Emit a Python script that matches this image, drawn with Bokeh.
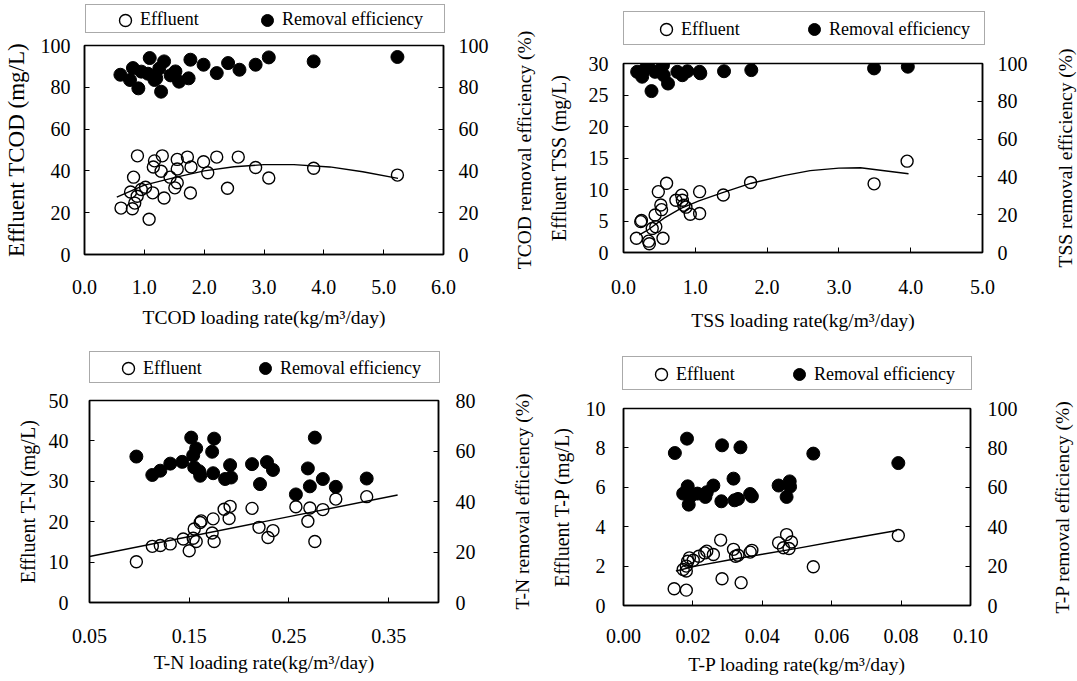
from bokeh.plotting import figure
from bokeh.models import (Range1d, LinearAxis, FixedTicker, NumeralTickFormatter,
                          Legend, LegendItem)
from bokeh.layouts import row, column
from bokeh.embed import file_html
from bokeh.resources import INLINE

FONT = "Liberation Serif"

# ---------------- Panel 1: TCOD ----------------
tcod_eff_x = [0.885, 1.17, 1.30, 1.55, 1.72, 1.99, 2.21, 2.57, 1.15, 1.28, 1.55, 1.78, 2.06,
              2.86, 0.82, 1.43, 1.55, 1.51, 1.02, 0.95, 0.77, 0.88, 1.14, 1.33, 1.77, 2.39,
              0.61, 0.80, 0.84, 1.08, 3.08, 3.83, 5.23]
tcod_eff_y = [47.2, 44.8, 47.2, 45.5, 46.6, 44.4, 46.6, 46.6, 41.9, 39.8, 40.9, 41.9, 39.1,
              41.6, 37.0, 37.0, 34.3, 31.9, 32.2, 31.1, 29.9, 27.9, 29.5, 27.0, 29.4, 31.7,
              22.2, 21.9, 24.6, 16.9, 36.6, 41.3, 38.0]
tcod_rem_x = [0.60, 0.81, 0.90, 0.76, 1.09, 1.06, 1.20, 1.33, 1.28, 1.52, 1.58, 1.77, 1.74,
              1.99, 2.21, 2.40, 2.59, 2.86, 3.08, 3.83, 5.23, 0.95, 1.25, 1.44, 1.17]
tcod_rem_y = [86.0, 89.2, 79.5, 83.5, 94.0, 86.5, 84.3, 92.4, 77.9, 87.6, 82.7, 93.2, 84.3,
              90.8, 86.8, 91.6, 88.4, 90.8, 94.3, 92.4, 94.5, 87.5, 89.0, 85.7, 83.5]
tcod_fit_x = [0.54, 1.0, 1.5, 2.0, 2.5, 3.0, 3.5, 4.1, 4.65, 5.24]
tcod_fit_y = [27.5, 33.2, 36.8, 40.0, 42.0, 43.0, 43.0, 41.9, 39.6, 36.4]

# ---------------- Panel 2: TSS ----------------
tss_eff_x = [0.18, 0.25, 0.24, 0.35, 0.36, 0.55, 0.40, 0.45, 0.44, 0.52, 0.53, 0.485, 0.60,
             0.73, 0.81, 0.82, 0.84, 0.87, 0.93, 1.06, 1.06, 1.39, 1.77, 3.49, 3.95]
tss_eff_y = [2.27, 5.07, 4.9, 1.8, 1.4, 2.27, 3.8, 4.1, 5.96, 7.55, 6.8, 9.66, 11.0,
             8.3, 9.1, 8.3, 7.5, 7.2, 6.06, 9.66, 6.2, 9.13, 11.1, 10.9, 14.5]
tss_rem_x = [0.19, 0.26, 0.30, 0.35, 0.39, 0.44, 0.55, 0.56, 0.62, 0.75, 0.82, 0.89, 1.06,
             1.07, 1.40, 1.78, 3.49, 3.96]
tss_rem_y = [95.6, 93.0, 97.0, 98.3, 85.4, 95.6, 99.1, 93.8, 89.4, 95.6, 93.8, 95.9, 95.6,
             94.8, 95.9, 96.5, 97.4, 98.3]
tss_fit_x = [0.22, 0.33, 0.57, 0.80, 1.05, 1.38, 1.78, 2.23, 2.60, 3.00, 3.30, 3.69, 3.97]
tss_fit_y = [2.8, 3.5, 5.5, 7.0, 8.2, 9.5, 11.0, 12.2, 13.0, 13.4, 13.45, 12.9, 12.5]

# ---------------- Panel 3: T-N ----------------
tn_eff_x = [0.097, 0.113, 0.121, 0.131, 0.144, 0.150, 0.154, 0.155, 0.157, 0.161, 0.162,
            0.173, 0.175, 0.174, 0.185, 0.191, 0.190, 0.213, 0.220, 0.229, 0.234, 0.257,
            0.271, 0.269, 0.284, 0.276, 0.297, 0.328]
tn_eff_y = [10.1, 13.9, 14.1, 14.5, 15.7, 12.8, 15.9, 18.2, 15.1, 19.8, 20.2,
            17.2, 15.1, 20.7, 23.1, 23.8, 20.8, 23.3, 18.6, 16.1, 17.8, 23.7,
            23.4, 20.1, 23.0, 15.1, 25.6, 26.2]
tn_rem_x = [0.097, 0.113, 0.121, 0.131, 0.143, 0.152, 0.157, 0.154, 0.155, 0.161, 0.175,
            0.173, 0.174, 0.186, 0.192, 0.191, 0.213, 0.221, 0.228, 0.234, 0.276, 0.269,
            0.271, 0.257, 0.284, 0.297, 0.328, 0.160]
tn_rem_y = [57.8, 50.5, 52.2, 55.0, 55.7, 65.3, 61.0, 58.3, 53.5, 50.2, 64.9,
            59.7, 51.2, 48.9, 49.5, 54.4, 54.8, 46.9, 55.6, 52.5, 65.3, 53.1,
            46.0, 42.8, 48.9, 45.8, 49.1, 52.0]
tn_fit_x = [0.05, 0.359]
tn_fit_y = [11.4, 26.6]

# ---------------- Panel 4: T-P ----------------
tp_eff_x = [0.0146, 0.0181, 0.0284, 0.0339, 0.028, 0.0172, 0.0181, 0.0185, 0.019, 0.0181,
            0.0201, 0.0217, 0.0234, 0.024, 0.0259, 0.0317, 0.0323, 0.033, 0.0365, 0.037,
            0.0447, 0.047, 0.0461, 0.0484, 0.0477, 0.0547, 0.0792]
tp_eff_y = [0.85, 0.78, 1.36, 1.16, 3.32, 1.83, 2.0, 2.25, 2.42, 1.75,
            2.3, 2.5, 2.67, 2.76, 2.59, 2.85, 2.5, 2.55, 2.71, 2.8,
            3.18, 3.6, 2.93, 3.22, 2.89, 1.97, 3.55]
tp_rem_x = [0.0148, 0.0183, 0.0284, 0.0337, 0.0317, 0.0172, 0.0185, 0.0188, 0.0193, 0.0186,
            0.0213, 0.0236, 0.024, 0.0259, 0.0282, 0.0320, 0.033, 0.0365, 0.037, 0.0447,
            0.0479, 0.048, 0.047, 0.0547, 0.0792]
tp_rem_y = [77.4, 84.7, 81.3, 80.3, 64.4, 56.8, 60.5, 51.2, 55.4, 58.0,
            56.8, 55.1, 57.5, 60.9, 52.9, 53.4, 54.1, 56.6, 55.4, 60.9,
            63.0, 60.3, 55.1, 77.1, 72.3]
tp_fit_x = [0.0151, 0.0208, 0.030, 0.040, 0.050, 0.064, 0.0788]
tp_fit_y = [1.75, 2.0, 2.3, 2.6, 2.9, 3.35, 3.81]

legend_labels = ["Effluent", "Removal efficiency"]

OPEN = dict(marker="circle", fill_color=None, line_color="black", line_width=1.4)
FILLED = dict(marker="circle", fill_color="black", line_color="black")
LS = -5  # legend label standoff


def base_fig(**kw):
    f = figure(output_backend="svg", toolbar_location=None, frame_align=False, **kw)
    f.background_fill_color = "white"
    f.border_fill_color = "white"
    return f


def style_axis(ax, label, label_size, label_standoff, tick_standoff, ticks, fmt=None):
    ax.axis_label = label
    ax.axis_label_text_font = FONT
    ax.axis_label_text_font_size = label_size
    ax.axis_label_text_font_style = "normal"
    ax.axis_label_text_color = "black"
    ax.axis_label_standoff = label_standoff
    ax.major_label_text_font = FONT
    ax.major_label_text_font_size = "20px"
    ax.major_label_text_color = "black"
    ax.major_label_standoff = tick_standoff
    ax.ticker = FixedTicker(ticks=ticks)
    if fmt:
        ax.formatter = NumeralTickFormatter(format=fmt)
    ax.major_tick_in = 5
    ax.major_tick_out = 0
    ax.minor_tick_in = 0
    ax.minor_tick_out = 0
    ax.axis_line_color = "black"
    ax.axis_line_width = 1.5
    ax.major_tick_line_color = "black"
    ax.major_tick_line_width = 1


def make_legend_fig(c):
    lf = base_fig(width=c["w"], height=c["hl"], x_range=Range1d(0, 1), y_range=Range1d(0, 1),
                  x_axis_type=None, y_axis_type=None, min_border=0)
    lf.outline_line_color = None
    # off-range points so that only the legend swatches are visible
    dummy = lf.scatter(x=[5], y=[5], alpha=0)
    e_r = lf.scatter(x=[5], y=[5], **OPEN)
    r_r = lf.scatter(x=[5], y=[5], **FILLED)
    fl, ft, hl = c["org"][0], c["org"][1], c["hl"]
    box_l, box_r, box_t, box_b = c["box"]
    legA = Legend(items=[LegendItem(label=" ", renderers=[dummy])],
                  location=(box_l - fl, hl - (box_b - ft)),
                  orientation="horizontal", padding=0, spacing=0, margin=0,
                  glyph_width=10, glyph_height=int(round(box_b - box_t)),
                  label_standoff=0, label_width=int(round(box_r - box_l - 10)),
                  border_line_color="#555555", border_line_width=1,
                  background_fill_color="white", background_fill_alpha=1.0,
                  label_text_font=FONT, label_text_font_size="18px")
    lf.add_layout(legA, "center")
    m1, m2, my = c["leg"]
    legB = Legend(items=[LegendItem(label=legend_labels[0], renderers=[e_r]),
                         LegendItem(label=legend_labels[1], renderers=[r_r])],
                  location=(m1 - 15 - fl, hl - (my + 15 - ft)),
                  orientation="horizontal", padding=0, spacing=0, margin=0,
                  glyph_width=30, glyph_height=30, label_standoff=LS,
                  label_width=int(round(m2 - m1 - 30 - LS)),
                  border_line_alpha=0, background_fill_alpha=0,
                  label_text_font=FONT, label_text_font_size="18px",
                  label_text_color="black")
    lf.add_layout(legB, "center")
    return lf


def make_title_fig(c):
    # narrow companion figure carrying the right-hand axis title (reads bottom-to-top)
    th = c["hl"] + c["h"]
    tf = base_fig(width=c["tw"], height=th, x_range=Range1d(0, 1), y_range=Range1d(0, 1),
                  x_axis_type=None, min_border_left=c["tbl"], min_border_right=0,
                  min_border_top=c["hl"] + c["bt"], min_border_bottom=c["bb"])
    tf.outline_line_color = None
    tf.xgrid.visible = False
    tf.ygrid.visible = False
    ax = tf.yaxis[0]
    ax.ticker = FixedTicker(ticks=[])
    ax.axis_line_color = None
    ax.major_tick_line_color = None
    ax.minor_tick_line_color = None
    ax.axis_label = c["rlabel"]
    ax.axis_label_text_font = FONT
    ax.axis_label_text_font_size = "19.5px"
    ax.axis_label_text_font_style = "normal"
    ax.axis_label_text_color = "black"
    ax.axis_label_standoff = 0
    return tf


def make_panel(c):
    p = base_fig(width=c["w"], height=c["h"],
                 x_range=Range1d(*c["xr"]), y_range=Range1d(*c["yl"]),
                 min_border_left=c["bl"], min_border_right=c["br"],
                 min_border_top=c["bt"], min_border_bottom=c["bb"])
    p.extra_y_ranges = {"eff": Range1d(*c["yr"])}
    p.xgrid.visible = False
    p.ygrid.visible = False
    p.outline_line_color = "black"
    p.outline_line_width = 1.5

    style_axis(p.xaxis[0], c["xlabel"], "19.5px", c["x_ls"], c["x_ts"], c["xticks"], c["xfmt"])
    style_axis(p.yaxis[0], c["ylabel"], c["ylabel_size"], c["y_ls"], c["y_ts"], c["yticks"])
    rax = LinearAxis(y_range_name="eff")
    style_axis(rax, None, "20px", 0, c["r_ts"], c["rticks"])
    p.add_layout(rax, "right")

    p.line(c["fx"], c["fy"], line_color="black", line_width=1.4)
    p.scatter(c["rx"], c["ry"], y_range_name="eff", size=13, **FILLED)
    p.scatter(c["ex"], c["ey"], size=12, **OPEN)
    return row(column(make_legend_fig(c), p, spacing=0), make_title_fig(c), spacing=0)


panel1 = make_panel(dict(
    org=(0, 0), w=510, h=302, hl=36, tw=30, tbl=24,
    bl=84, br=67, bt=9, bb=84,
    xr=(0, 6), yl=(0, 100), yr=(0, 100),
    xlabel="TCOD loading rate(kg/m³/day)", x_ls=10, x_ts=25, xticks=[0, 1, 2, 3, 4, 5, 6], xfmt="0.0",
    ylabel="Effluent TCOD (mg/L)", ylabel_size="23px", y_ls=9, y_ts=14, yticks=[0, 20, 40, 60, 80, 100],
    rlabel="TCOD removal efficiency (%)", r_ts=15, rticks=[0, 20, 40, 60, 80, 100],
    ex=tcod_eff_x, ey=tcod_eff_y, rx=tcod_rem_x, ry=tcod_rem_y, fx=tcod_fit_x, fy=tcod_fit_y,
    box=(85, 443, 6, 33), leg=(125, 262, 19.5)))

panel2 = make_panel(dict(
    org=(540, 0), w=505, h=292, hl=46, tw=32, tbl=30,
    bl=83, br=63, bt=17, bb=86,
    xr=(0, 5), yl=(0, 30), yr=(0, 100),
    xlabel="TSS loading rate(kg/m³/day)", x_ls=13, x_ts=27, xticks=[0, 1, 2, 3, 4, 5], xfmt="0.0",
    ylabel="Effluent TSS (mg/L)", ylabel_size="20px", y_ls=16, y_ts=15, yticks=[0, 5, 10, 15, 20, 25, 30],
    rlabel="TSS removal efficiency (%)", r_ts=15, rticks=[0, 20, 40, 60, 80, 100],
    ex=tss_eff_x, ey=tss_eff_y, rx=tss_rem_x, ry=tss_rem_y, fx=tss_fit_x, fy=tss_fit_y,
    box=(623, 983, 13, 45), leg=(666, 809, 29)))

panel3 = make_panel(dict(
    org=(0, 338), w=508, h=295, hl=48, tw=32, tbl=24,
    bl=89, br=70, bt=14, bb=79,
    xr=(0.05, 0.40), yl=(0, 50), yr=(0, 80),
    xlabel="T-N loading rate(kg/m³/day)", x_ls=6, x_ts=26, xticks=[0.05, 0.15, 0.25, 0.35], xfmt="0.00",
    ylabel="Effluent T-N (mg/L)", ylabel_size="20px", y_ls=7, y_ts=21, yticks=[0, 10, 20, 30, 40, 50],
    rlabel="T-N removal efficiency (%)", r_ts=17, rticks=[0, 20, 40, 60, 80],
    ex=tn_eff_x, ey=tn_eff_y, rx=tn_rem_x, ry=tn_rem_y, fx=tn_fit_x, fy=tn_fit_y,
    box=(89, 438, 353, 383), leg=(128, 260, 368)))

panel4 = make_panel(dict(
    org=(540, 338), w=500, h=288, hl=55, tw=37, tbl=32,
    bl=83, br=70, bt=15, bb=76,
    xr=(0, 0.10), yl=(0, 10), yr=(0, 100),
    xlabel="T-P loading rate(kg/m³/day)", x_ls=8, x_ts=23, xticks=[0, 0.02, 0.04, 0.06, 0.08, 0.10], xfmt="0.00",
    ylabel="Effluent T-P (mg/L)", ylabel_size="20px", y_ls=10, y_ts=18, yticks=[0, 2, 4, 6, 8, 10],
    rlabel="T-P removal efficiency (%)", r_ts=17, rticks=[0, 20, 40, 60, 80, 100],
    ex=tp_eff_x, ey=tp_eff_y, rx=tp_rem_x, ry=tp_rem_y, fx=tp_fit_x, fy=tp_fit_y,
    box=(622, 970, 358, 390), leg=(661, 794, 374)))

layout = column(row(panel1, panel2, spacing=0), row(panel3, panel4, spacing=0), spacing=0)

with open("out.html", "w") as f:
    f.write(file_html(layout, INLINE))
